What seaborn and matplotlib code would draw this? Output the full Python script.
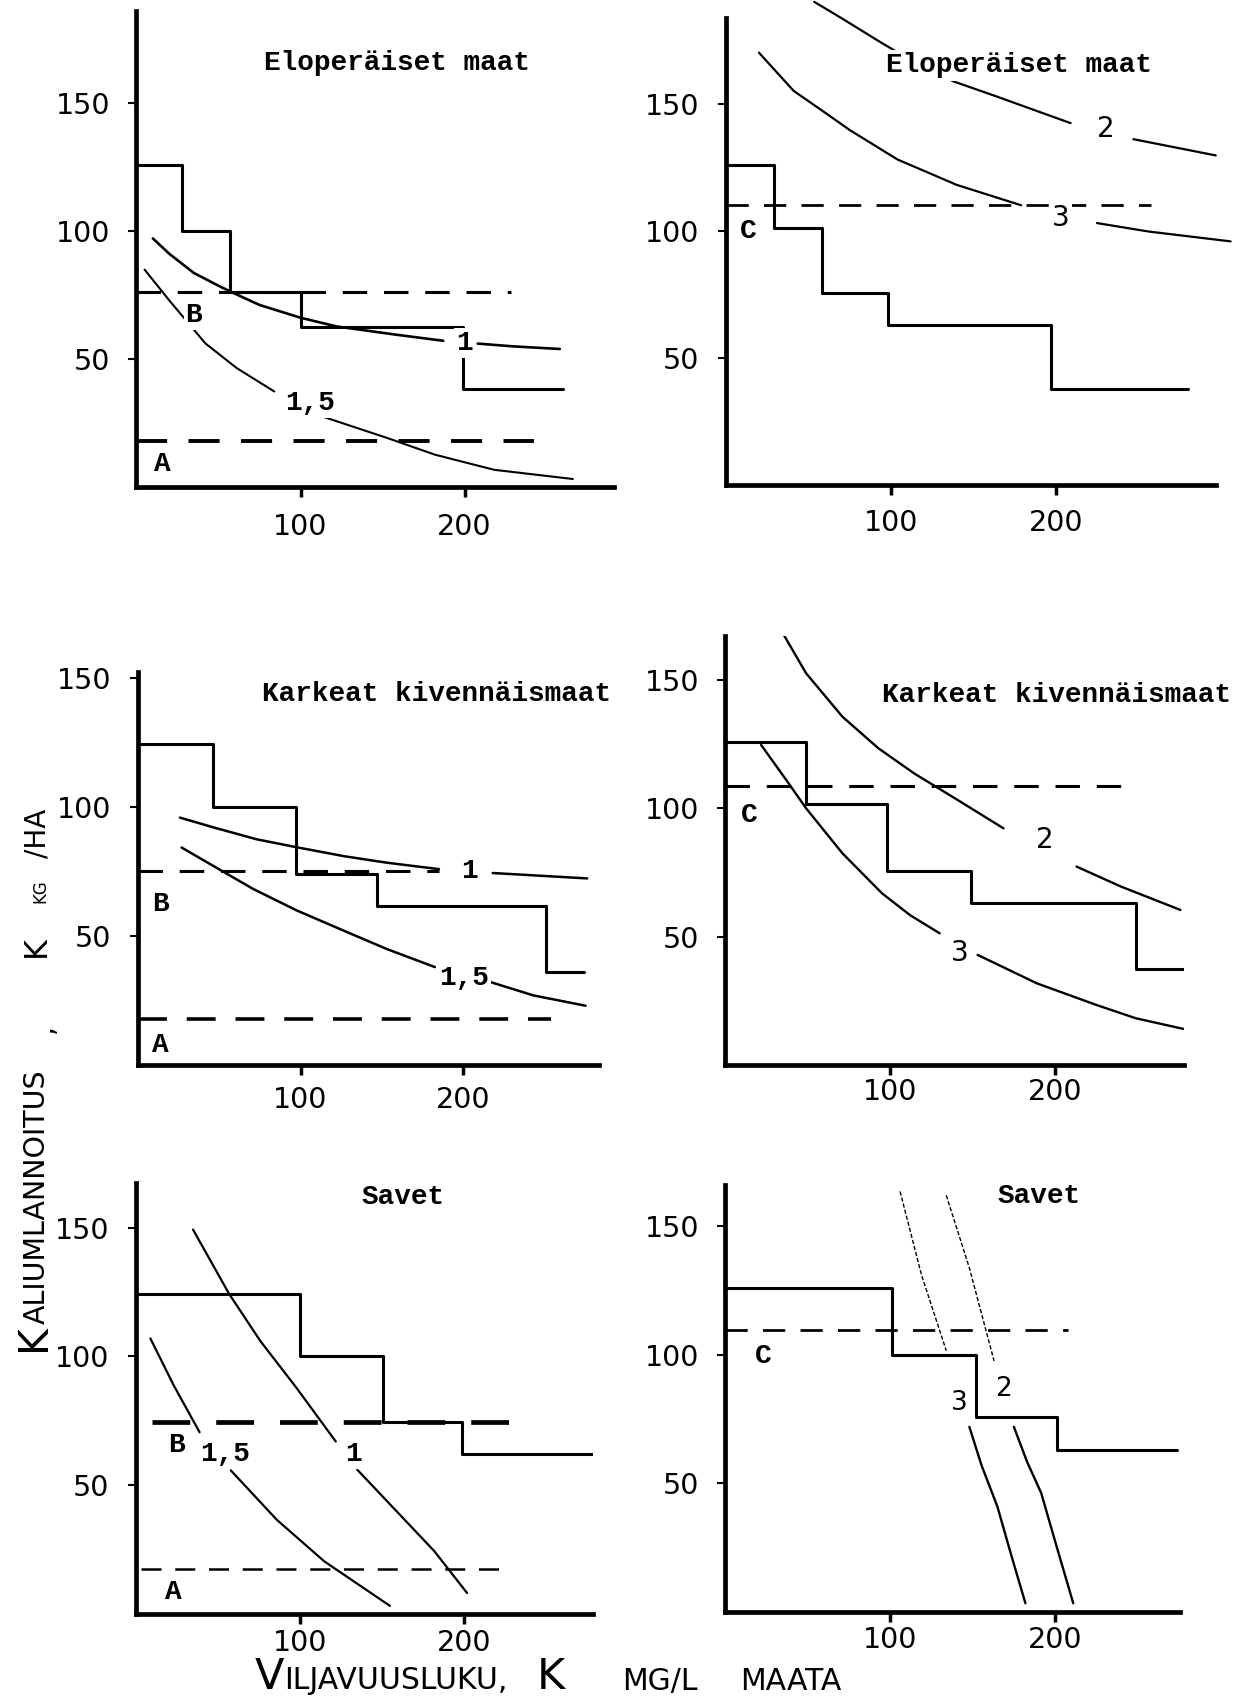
import numpy as np
import pandas as pd
import seaborn as sns
import matplotlib.pyplot as plt
from matplotlib.transforms import IdentityTransform

# ---- data (x = K mg/l, y = K kg/ha) ----

# top left: Eloperäiset maat
elo1_step_x = [0, 28, 57, 100, 199, 260]
elo1_step_y = [125.5, 100, 76, 62.5, 38]
elo1_B = ([0, 228], 76)
elo1_A = ([0, 242], 18)
elo1_c1_x = [[10, 20, 35, 50, 58, 75, 100, 122, 140, 158, 187], [208, 230, 258]]
elo1_c1_y = [[97, 91, 83.5, 78.5, 76, 71, 66, 62.6, 61, 59.4, 57], [55.9, 54.8, 53.8]]
elo1_c15_x = [[5, 20.5, 42, 61, 84], [112, 153, 182, 218, 266]]
elo1_c15_y = [[84.8, 72.4, 56, 46.4, 37.2], [27.7, 19, 12.5, 6.6, 3]]

# top right: Eloperäiset maat
elo2_step_x = [0, 29, 58, 98, 197, 280]
elo2_step_y = [126, 101, 75.6, 63, 37.7]
elo2_C = ([0, 258], 110)
elo2_c3_x = [[20, 41, 61, 75, 104, 140, 179], [225, 256, 306]]
elo2_c3_y = [[170, 155, 146, 139.6, 128, 118, 110], [103, 99.7, 95.8]]
elo2_c2_x = [[53.5, 70, 94.5, 115, 138, 164, 209], [247, 297]]
elo2_c2_y = [[190, 183.6, 173.8, 166, 158.7, 152.8, 142.3], [136, 129.6]]

# middle left: Karkeat kivennäismaat
kar1_step_x = [0, 46, 97, 147, 251, 274]
kar1_step_y = [124.6, 100, 74, 61.6, 36]
kar1_B = ([0, 185], 75.4)
kar1_A = ([0, 254], 18)
kar1_c1_x = [[26, 46.6, 73, 97.6, 127, 153, 185], [218, 276]]
kar1_c1_y = [[96, 92.2, 87.6, 84.5, 81, 78.5, 76], [74.5, 72.4]]
kar1_c15_x = [[27, 46.6, 71, 97.6, 127, 153, 182.5], [214, 243, 275]]
kar1_c15_y = [[84.4, 77.2, 68.3, 60, 52, 45, 38], [32.7, 27, 23]]

# middle right: Karkeat kivennäismaat
kar2_step_x = [0, 49, 98, 149, 249, 278]
kar2_step_y = [126, 101.5, 75.7, 63, 37.3]
kar2_C = ([0, 243], 108.7)
kar2_c2_x = [[33.7, 49, 71, 92.8, 114.5, 141, 168.7], [213, 240, 276]]
kar2_c2_y = [[169.5, 152.6, 135.7, 123.4, 113.6, 103.2, 92.2], [77.3, 69.5, 60.4]]
kar2_c3_x = [[21.7, 37, 49, 71, 95, 112, 130], [153, 189, 225, 249, 281]]
kar2_c3_y = [[124.7, 111, 100, 82.5, 66.9, 58.4, 51.3], [42.9, 31.8, 23.4, 18.2, 13.6]]

# bottom left: Savet
sav1_step_x = [0, 100, 151, 199, 279]
sav1_step_y = [124.3, 100, 74.6, 62.2]
sav1_B = ([10, 230], 74.6)
sav1_A = ([3, 226], 17.3)
sav1_c1_x = [[35, 57, 76, 98, 122], [135, 158, 182, 202]]
sav1_c1_y = [[149.3, 124.3, 106, 87.8, 66.9], [56, 40.5, 24.3, 8]]
sav1_c15_x = [[9, 23, 39], [58, 86, 115, 155]]
sav1_c15_y = [[107, 89, 70.5], [55.7, 36.5, 20.3, 3]]

# bottom right: Savet
sav2_step_x = [0, 101, 152, 201, 274]
sav2_step_y = [126, 100, 76, 63]
sav2_C = ([0, 208], 109.5)
sav2_c3_top_x, sav2_c3_top_y = [106, 119, 134], [163.5, 131, 101.6]
sav2_c3_x, sav2_c3_y = [148, 155.4, 165, 173.5, 182], [72, 57, 41, 21.9, 3.4]
sav2_c2_top_x, sav2_c2_top_y = [134, 148, 163], [162, 133.8, 97.6]
sav2_c2_x, sav2_c2_y = [175, 183, 191.6, 201, 211], [72, 58.4, 46.2, 25.3, 3.4]

x_ticks = [100, 200]
y_ticks = [50, 100, 150]

# ---- figure ----
sns.set_theme(style='white')
plt.rcParams['font.family'] = ['DejaVu Sans']
MONO = ['Liberation Mono', 'DejaVu Sans Mono']
SANS = ['DejaVu Sans']

W, H = 1243, 1705
fig = plt.figure(figsize=(W / 100, H / 100), dpi=100)
fig.patch.set_facecolor('white')


def make_ax(x0, y0, sx, sy, xmax, ymax, xpad=11):
    # x0, y0 = data origin in image pixels (from top left), sx, sy = px per unit
    ax = fig.add_axes([x0 / W, (H - y0) / H, xmax * sx / W, ymax * sy / H])
    ax.set_xlim(0, xmax)
    ax.set_ylim(0, ymax)
    ax.set_facecolor('none')
    for s in ['top', 'right']:
        ax.spines[s].set_visible(False)
    for s in ['left', 'bottom']:
        ax.spines[s].set_linewidth(3.4)
        ax.spines[s].set_color('black')
    ax.set_xticks(x_ticks)
    ax.set_yticks(y_ticks)
    ax.tick_params(axis='x', bottom=True, direction='out', length=7, width=2.5,
                   pad=xpad, labelsize=20.5, colors='black')
    ax.tick_params(axis='y', left=True, direction='out', length=6, width=1.5,
                   pad=13, labelsize=20.5, colors='black')
    return ax


def curve(ax, xs_list, ys_list, lw=1.7, **kw):
    rows = []
    for i, (xs, ys) in enumerate(zip(xs_list, ys_list)):
        rows += [(i, x, y) for x, y in zip(xs, ys)]
    df = pd.DataFrame(rows, columns=['seg', 'x', 'y'])
    sns.lineplot(data=df, x='x', y='y', units='seg', estimator=None, sort=False,
                 color='black', lw=lw, ax=ax, legend=False, **kw)


def steps(ax, edges, levels):
    sns.lineplot(x=edges, y=list(levels) + [levels[-1]], drawstyle='steps-post',
                 estimator=None, sort=False, color='black', lw=2.2, ax=ax)


def dashed(ax, ref, lw=2.2):
    xs, y = ref
    sns.lineplot(x=xs, y=[y] * len(xs), estimator=None, color='black', lw=lw,
                 linestyle=(0, (8, 5.5)), ax=ax)


def label(ax, x, y, s, size=20, family=MONO, weight='bold'):
    ax.text(x, y, s, ha='center', va='center', fontsize=size, family=family,
            fontweight=weight, color='black', zorder=6,
            bbox=dict(fc='white', ec='none', pad=1.5))


def num(ax, x, y, s, size=20):
    label(ax, x, y, s, size=size, family=SANS, weight='normal')


def title(ax, x, y, s):
    ax.text(x, y, s, ha='center', va='center', fontsize=20, family=MONO,
            fontweight='bold', color='black', zorder=6,
            bbox=dict(fc='white', ec='none', pad=2))


# top left
ax = make_ax(136.4, 486.7, 1.641, 2.56, 291, 186, xpad=12)
steps(ax, elo1_step_x, elo1_step_y)
dashed(ax, elo1_B)
dashed(ax, elo1_A, lw=2.8)
curve(ax, elo1_c1_x, elo1_c1_y, lw=1.9)
curve(ax, elo1_c15_x, elo1_c15_y, lw=1.5)
label(ax, 35, 67, 'B')
label(ax, 15.7, 9, 'A')
label(ax, 200, 56, '1')
label(ax, 106, 32.7, '1,5')
title(ax, 159, 165.5, 'Eloperäiset maat')
ax.set(xlabel='', ylabel='')

# top right
ax = make_ax(726, 485, 1.649, 2.543, 297, 183.6, xpad=10)
steps(ax, elo2_step_x, elo2_step_y)
dashed(ax, elo2_C, lw=2.0)
curve(ax, elo2_c3_x, elo2_c3_y, lw=1.6, clip_on=False)
curve(ax, elo2_c2_x, elo2_c2_y, lw=1.6, clip_on=False)
label(ax, 13.7, 100, 'C')
num(ax, 230.6, 140, '2')
num(ax, 203, 105, '3')
title(ax, 177.6, 165, 'Eloperäiset maat')
ax.set(xlabel='', ylabel='')

# middle left
ax = make_ax(137.6, 1065, 1.629, 2.577, 283, 152.6, xpad=8)
steps(ax, kar1_step_x, kar1_step_y)
dashed(ax, kar1_B)
dashed(ax, kar1_A, lw=2.6)
curve(ax, kar1_c1_x, kar1_c1_y, lw=1.8)
curve(ax, kar1_c15_x, kar1_c15_y, lw=1.8)
label(ax, 14, 62.5, 'B')
label(ax, 14, 7.6, 'A')
label(ax, 204, 75.3, '1')
label(ax, 200.7, 33.8, '1,5')
title(ax, 183.7, 144, 'Karkeat kivennäismaat')
ax.set(xlabel='', ylabel='')

# middle right
ax = make_ax(725.3, 1065, 1.649, 2.567, 278, 167, xpad=2)
steps(ax, kar2_step_x, kar2_step_y)
dashed(ax, kar2_C)
curve(ax, kar2_c2_x, kar2_c2_y, lw=1.7)
curve(ax, kar2_c3_x, kar2_c3_y, lw=1.7)
label(ax, 14.5, 97.4, 'C')
num(ax, 194, 87.7, '2')
num(ax, 142, 43.5, '3')
title(ax, 201, 144, 'Karkeat kivennäismaat')
ax.set(xlabel='', ylabel='')

# bottom left
ax = make_ax(135.6, 1613.6, 1.641, 2.572, 279, 167.6, xpad=4)
steps(ax, sav1_step_x, sav1_step_y)
dashed(ax, sav1_B, lw=3.4)
dashed(ax, sav1_A, lw=1.8)
curve(ax, sav1_c1_x, sav1_c1_y, lw=1.6)
curve(ax, sav1_c15_x, sav1_c15_y, lw=1.6)
label(ax, 24.6, 65.5, 'B')
label(ax, 23, 8.4, 'A')
label(ax, 54.7, 62, '1,5')
label(ax, 133, 62, '1')
title(ax, 163, 162, 'Savet')
ax.set(xlabel='', ylabel='')

# bottom right
ax = make_ax(725.3, 1612, 1.649, 2.572, 276, 166, xpad=3)
steps(ax, sav2_step_x, sav2_step_y)
dashed(ax, sav2_C, lw=2.0)
curve(ax, [sav2_c3_top_x, sav2_c2_top_x], [sav2_c3_top_y, sav2_c2_top_y],
      lw=1.0, linestyle=(0, (3, 1.5)))
curve(ax, [sav2_c3_x], [sav2_c3_y], lw=1.7)
curve(ax, [sav2_c2_x], [sav2_c2_y], lw=1.7)
label(ax, 23, 99.6, 'C')
num(ax, 142.2, 81.4, '3', size=19)
num(ax, 168.7, 86.8, '2', size=19)
title(ax, 190, 161.8, 'Savet')
ax.set(xlabel='', ylabel='')

# ---- axis titles in small caps style, placed piece by piece ----
renderer = fig.canvas.get_renderer()


def piece(x, y, s, size, rotation=0):
    # x, y in image pixels measured from the top left, anchored at the baseline
    t = fig.text(x, H - y, s, fontsize=size, rotation=rotation, rotation_mode='anchor',
                 ha='left', va='baseline', family=SANS, color='black',
                 transform=IdentityTransform())
    return t.get_window_extent(renderer)


bb = piece(255, 1689, 'V', 31)
piece(255 + bb.width, 1689, 'ILJAVUUSLUKU,', 21.5)
piece(537, 1689, 'K', 31)
piece(622, 1690, 'MG/L', 21.5)
piece(740, 1690, 'MAATA', 21.5)

bb = piece(45, 1351, 'K', 29.5, rotation=90)
piece(45, 1351 - bb.height, 'ALIUMLANNOITUS', 20.5, rotation=90)
piece(53, 1033, ',', 20.5, rotation=90)
piece(45, 957, 'K', 23, rotation=90)
piece(45, 903, 'KG', 12, rotation=90)
piece(45, 858, '/HA', 20, rotation=90)

fig.savefig('out.png', dpi=100, facecolor='white')
